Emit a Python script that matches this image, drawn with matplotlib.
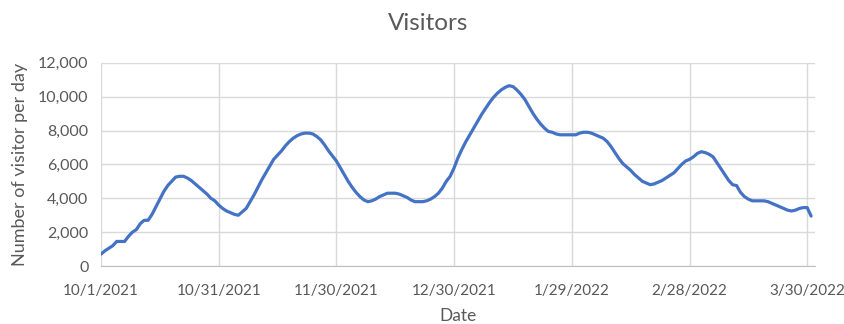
import matplotlib.pyplot as plt
import matplotlib.dates as mdates
import numpy as np
import pandas as pd

plt.rcParams['font.family'] = ['Lato', 'DejaVu Sans']

# daily visitor counts from 10/1/2021 onward
start_date = "2021-10-01"
visitors = [
    700, 900, 1050, 1200, 1450, 1450, 1450, 1750, 2000, 2150,
    2500, 2700, 2700, 3050, 3500, 3950, 4400, 4750, 5000, 5250,
    5300, 5300, 5200, 5050, 4850, 4650, 4450, 4250, 4000, 3850,
    3600, 3400, 3250, 3150, 3050, 3000, 3200, 3400, 3800, 4200,
    4650, 5100, 5500, 5900, 6300, 6550, 6800, 7100, 7350, 7550,
    7700, 7800, 7850, 7850, 7800, 7650, 7450, 7150, 6800, 6500,
    6200, 5800, 5400, 5000, 4650, 4350, 4100, 3900, 3800, 3850,
    3950, 4100, 4200, 4300, 4300, 4300, 4250, 4150, 4050, 3900,
    3800, 3800, 3800, 3850, 3950, 4100, 4300, 4600, 5000, 5300,
    5800, 6400, 6900, 7350, 7750, 8150, 8550, 8950, 9300, 9650,
    9950, 10200, 10400, 10550, 10650, 10600, 10400, 10150, 9850, 9450,
    9050, 8700, 8400, 8150, 7950, 7900, 7800, 7750, 7750, 7750,
    7750, 7750, 7850, 7900, 7900, 7850, 7750, 7650, 7550, 7350,
    7050, 6700, 6350, 6050, 5850, 5650, 5400, 5200, 5000, 4900,
    4800, 4850, 4950, 5050, 5200, 5350, 5500, 5750, 6000, 6200,
    6300, 6450, 6650, 6750, 6700, 6600, 6450, 6100, 5750, 5400,
    5050, 4800, 4750, 4350, 4100, 3950, 3850, 3850, 3850, 3850,
    3800, 3700, 3600, 3500, 3400, 3300, 3250, 3300, 3400, 3450,
    3450, 2950,
]
tick_dates = ["2021-10-01", "2021-10-31", "2021-11-30", "2021-12-30",
              "2022-01-29", "2022-02-28", "2022-03-30"]

dates = pd.date_range(start_date, periods=len(visitors), freq="D")
ticks = pd.to_datetime(tick_dates)

text_color = "#595959"

fig = plt.figure(figsize=(8.44, 3.24), dpi=100)
ax = fig.add_axes([0.1197, 0.179, 0.846, 0.627])

ax.plot(dates, visitors, color="#4472C4", linewidth=2.3, solid_capstyle="round")

ax.set_xlim(pd.Timestamp("2021-10-01"), pd.Timestamp("2022-04-01"))
ax.set_ylim(0, 12000)
ax.set_yticks(np.arange(0, 12001, 2000))
ax.yaxis.set_major_formatter(plt.FuncFormatter(lambda v, p: f"{int(v):,}"))
ax.set_xticks(ticks)
ax.xaxis.set_major_formatter(plt.FuncFormatter(
    lambda v, p: (lambda d: f"{d.month}/{d.day}/{d.year}")(mdates.num2date(v))))

ax.grid(True, color="#D9D9D9", linewidth=1)
ax.set_axisbelow(True)
for side in ["top", "right", "left"]:
    ax.spines[side].set_visible(False)
ax.spines["bottom"].set_color("#BFBFBF")
ax.tick_params(length=0, colors=text_color)
ax.tick_params(axis="x", pad=13, labelsize=11)
ax.tick_params(axis="y", pad=9, labelsize=11.5)

ax.set_xlabel("Date", fontsize=12.5, color=text_color, labelpad=7)
ax.set_ylabel("Number of visitor per day", fontsize=13, color=text_color, labelpad=7)
fig.text(0.507, 0.927, "Visitors", ha="center", va="center", fontsize=17.5, color=text_color)

fig.savefig("out.png", dpi=100)
